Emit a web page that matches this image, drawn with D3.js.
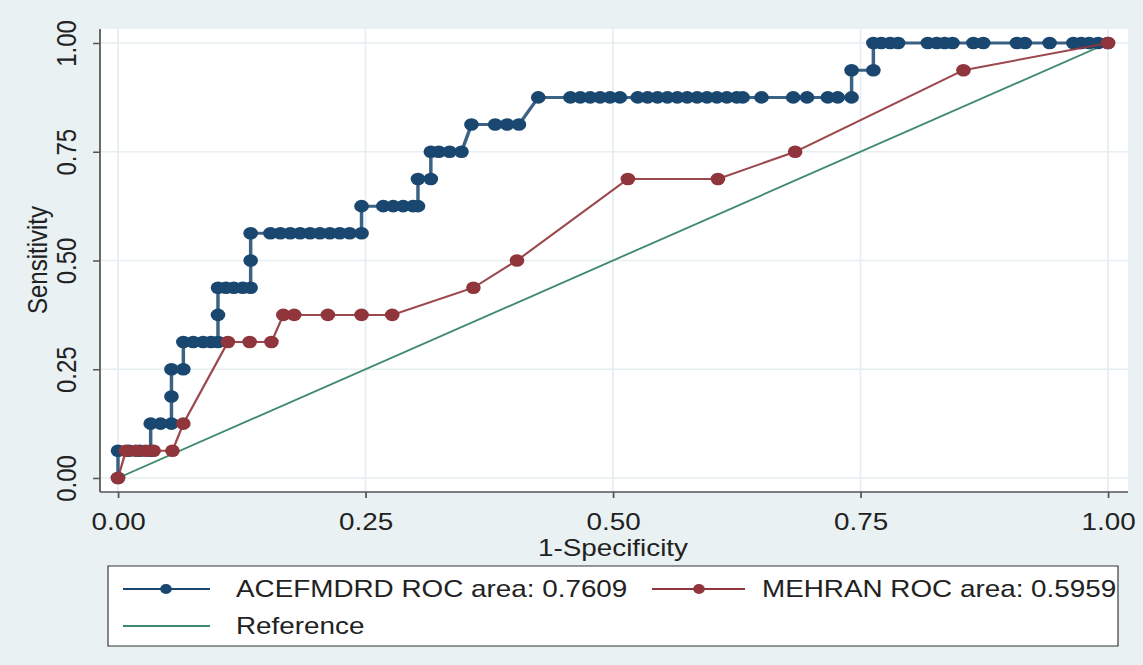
<!DOCTYPE html>
<html><head><meta charset="utf-8">
<script src="https://cdn.jsdelivr.net/npm/d3@7"></script>
<style>body{margin:0;background:#e9f1f3}</style>
</head><body>
<svg id="c" width="1143" height="665"></svg>
<script>
const xTicks=[0,0.25,0.5,0.75,1];
const yTicks=[0,0.25,0.5,0.75,1];
const tickLabels=["0.00","0.25","0.50","0.75","1.00"];
const xTitle="1-Specificity", yTitle="Sensitivity";
const legendLabels=["ACEFMDRD ROC area: 0.7609","MEHRAN ROC area: 0.5959","Reference"];

const blueFPR=[0,0,0.011,0.022,0.033,0.033,0.043,0.054,0.054,0.054,0.066,0.066,0.076,0.086,0.094,0.101,0.101,0.101,0.109,0.117,0.126,0.134,0.134,0.134,
0.154,0.164,0.174,0.184,0.194,0.204,0.214,0.224,0.234,0.246,
0.246,0.268,0.278,0.288,0.298,0.303,
0.303,0.316,
0.316,0.324,0.335,0.347,
0.357,0.381,0.393,0.405,
0.4245,0.457,0.467,0.477,0.487,0.497,0.507,0.525,0.535,0.545,0.555,0.565,0.575,0.585,0.595,0.605,0.615,0.625,0.631,0.650,0.682,0.696,0.717,0.727,0.741,
0.741,0.763,
0.763,0.771,0.780,0.788,0.818,0.827,0.835,0.843,0.864,0.874,0.908,0.916,0.941,0.965,0.973,0.981,0.990,1];
const blueTPR=[0,0.0625,0.0625,0.0625,0.0625,0.125,0.125,0.125,0.1875,0.25,0.25,0.3125,0.3125,0.3125,0.3125,0.3125,0.375,0.4375,0.4375,0.4375,0.4375,0.4375,0.5,0.5625,
0.5625,0.5625,0.5625,0.5625,0.5625,0.5625,0.5625,0.5625,0.5625,0.5625,
0.625,0.625,0.625,0.625,0.625,0.625,
0.6875,0.6875,
0.75,0.75,0.75,0.75,
0.8125,0.8125,0.8125,0.8125,
0.875,0.875,0.875,0.875,0.875,0.875,0.875,0.875,0.875,0.875,0.875,0.875,0.875,0.875,0.875,0.875,0.875,0.875,0.875,0.875,0.875,0.875,0.875,0.875,0.875,
0.9375,0.9375,
1,1,1,1,1,1,1,1,1,1,1,1,1,1,1,1,1,1];

const redFPR=[0,0.008,0.018,0.028,0.036,0.055,0.066,0.111,0.133,0.155,0.167,0.178,0.212,0.246,0.277,0.359,0.403,0.515,0.606,0.684,0.854,1];
const redTPR=[0,0.0625,0.0625,0.0625,0.0625,0.0625,0.125,0.3125,0.3125,0.3125,0.375,0.375,0.375,0.375,0.375,0.4375,0.5,0.6875,0.6875,0.75,0.9375,1];

const refFPR=[0,1], refTPR=[0,1];

const BLUE="#1a476f", RED="#90353b", GREEN="#3f8a6c";
const K=1.16;
const L=px=>px/K;
const FONT="'Liberation Sans', Arial, Helvetica, sans-serif";

const svg=d3.select("#c");
svg.append("rect").attr("width",1143).attr("height",665).attr("fill","#e9f1f3");
const g=svg.append("g").attr("transform",`scale(${K},1)`);

const x=d3.scaleLinear().domain([0,1]).range([L(118),L(1108)]);
const y=d3.scaleLinear().domain([0,1]).range([478,43]);

const pL=L(100), pR=L(1128), pT=29, pB=492;
g.append("rect").attr("x",pL).attr("y",pT).attr("width",pR-pL).attr("height",pB-pT).attr("fill","#fff");

// grid
g.append("g").selectAll("line").data(yTicks).join("line")
  .attr("x1",pL).attr("x2",pR).attr("y1",d=>y(d)).attr("y2",d=>y(d))
  .attr("stroke","#e6eef1").attr("stroke-width",1.5);
g.append("g").selectAll("line").data(xTicks).join("line")
  .attr("x1",d=>x(d)).attr("x2",d=>x(d)).attr("y1",pT).attr("y2",pB)
  .attr("stroke","#e6eef1").attr("stroke-width",1.5);

// axes
const xa=g.append("g").attr("transform",`translate(0,${pB})`)
  .call(d3.axisBottom(x).tickValues(xTicks).tickFormat((d,i)=>tickLabels[i]).tickSize(6).tickSizeOuter(0));
xa.select(".domain").remove();
xa.selectAll(".tick line").attr("stroke","#555").attr("stroke-width",1.5);
xa.selectAll(".tick text").attr("y",38).attr("dy",0).attr("font-size",24).attr("font-family",FONT).attr("fill","#222");

const ya=g.append("g").attr("transform",`translate(${pL},0)`)
  .call(d3.axisLeft(y).tickValues(yTicks).tickFormat((d,i)=>tickLabels[i]).tickSize(6).tickSizeOuter(0));
ya.select(".domain").remove();
ya.selectAll(".tick line").attr("stroke","#555").attr("stroke-width",1.5);
ya.selectAll(".tick text").attr("x",0).attr("y",0).attr("dy",0)
  .attr("text-anchor","middle").attr("font-size",24).attr("font-family",FONT).attr("fill","#222")
  .attr("transform",`translate(${L(76)-pL},0) rotate(-90)`);

g.append("line").attr("x1",pL).attr("x2",pL).attr("y1",pT).attr("y2",pB).attr("stroke","#555").attr("stroke-width",1.5);
g.append("line").attr("x1",pL).attr("x2",pR).attr("y1",pB).attr("y2",pB).attr("stroke","#555").attr("stroke-width",1.5);

// titles
g.append("text").attr("x",L(613)).attr("y",556).attr("text-anchor","middle")
  .attr("font-size",24).attr("font-family",FONT).attr("fill","#222").text(xTitle);
g.append("text").attr("transform",`translate(${L(47)},260) rotate(-90)`).attr("text-anchor","middle")
  .attr("font-size",24).attr("font-family",FONT).attr("fill","#222").text(yTitle);

// reference line
const ref=refFPR.map((d,i)=>[d,refTPR[i]]);
const line=d3.line().x(d=>x(d[0])).y(d=>y(d[1]));
g.append("path").attr("d",line(ref)).attr("fill","none").attr("stroke",GREEN).attr("stroke-width",1.8);

// blue
const blue=blueFPR.map((d,i)=>[d,blueTPR[i]]);
g.append("path").attr("d",line(blue)).attr("fill","none").attr("stroke",BLUE).attr("stroke-width",3).attr("stroke-opacity",0.85);
g.append("g").selectAll("circle").data(blue).join("circle")
  .attr("cx",d=>x(d[0])).attr("cy",d=>y(d[1])).attr("r",6.3).attr("fill",BLUE);

// red
const red=redFPR.map((d,i)=>[d,redTPR[i]]);
g.append("path").attr("d",line(red)).attr("fill","none").attr("stroke",RED).attr("stroke-width",2).attr("stroke-opacity",0.9);
g.append("g").selectAll("circle").data(red).join("circle")
  .attr("cx",d=>x(d[0])).attr("cy",d=>y(d[1])).attr("r",6.3).attr("fill",RED);

// legend
g.append("rect").attr("x",L(108)).attr("y",566).attr("width",L(1118)-L(108)).attr("height",80)
  .attr("fill","#fff").attr("stroke","#333").attr("stroke-width",1);
const leg=[
  {x1:123,x2:210,cx:166,y:589,c:BLUE,m:true,tx:236,t:legendLabels[0]},
  {x1:652,x2:745,cx:699,y:589,c:RED,m:true,tx:762,t:legendLabels[1]},
  {x1:123,x2:210,cx:166,y:626,c:GREEN,m:false,tx:236,t:legendLabels[2]}
];
leg.forEach(d=>{
  g.append("line").attr("x1",L(d.x1)).attr("x2",L(d.x2)).attr("y1",d.y).attr("y2",d.y).attr("stroke",d.c).attr("stroke-width",1.8);
  if(d.m) g.append("circle").attr("cx",L(d.cx)).attr("cy",d.y).attr("r",5).attr("fill",d.c);
  g.append("text").attr("x",L(d.tx)).attr("y",d.y).attr("dy","0.35em").attr("font-size",24)
    .attr("font-family",FONT).attr("fill","#222").text(d.t);
});
</script>
</body></html>
